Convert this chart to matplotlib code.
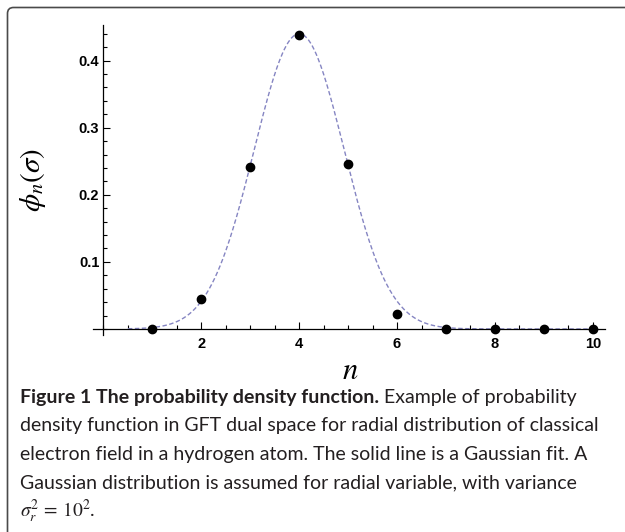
import numpy as np
import matplotlib
matplotlib.use("Agg")
import matplotlib.pyplot as plt
from matplotlib.patches import FancyBboxPatch
from matplotlib.ticker import MultipleLocator

plt.rcParams['mathtext.fontset'] = 'stix'

# data points
n_values = [1, 2, 3, 4, 5, 6, 7, 8, 9, 10]
phi_values = [0.0, 0.044, 0.242, 0.438, 0.246, 0.023, 0.0, 0.0, 0.0, 0.0]

# gaussian fit (dashed curve), parameters
fit_amplitude = 0.44
fit_center = 4.0
fit_width = 0.92
fit_start, fit_end = 0.5, 10.0

x_ticks = [2, 4, 6, 8, 10]
y_ticks = [0.1, 0.2, 0.3, 0.4]

caption_title = "Figure 1 The probability density function."
caption_first = " Example of probability"
caption_lines = [
    "density function in GFT dual space for radial distribution of classical",
    "electron field in a hydrogen atom. The solid line is a Gaussian fit. A",
    "Gaussian distribution is assumed for radial variable, with variance",
    r"$\sigma_r^2\,=\,10^2$.",
]

fig = plt.figure(figsize=(6.25, 5.32), dpi=100)

# rounded panel frame (only top and left edges visible)
frame = FancyBboxPatch((0.075, -0.5), 7.0, 5.32 - 0.075 + 0.5,
                       boxstyle="round,pad=0,rounding_size=0.06",
                       transform=fig.dpi_scale_trans,
                       facecolor='none', edgecolor='#4a4a4a', linewidth=1.2,
                       zorder=-1)
fig.patches.append(frame)

ax = fig.add_axes([0.1483, 0.3703, 0.8197, 0.5827])
ax.patch.set_alpha(0)

x_fit = np.linspace(fit_start, fit_end, 500)
y_fit = fit_amplitude * np.exp(-(x_fit - fit_center) ** 2 / (2 * fit_width ** 2))
ax.plot(x_fit, y_fit, color='#8585c2', lw=1.0, dashes=(3.2, 1.8), zorder=2)
ax.plot(n_values, phi_values, 'o', color='black', markersize=6, zorder=4,
        clip_on=False)

ax.set_xlim(-0.22, 10.25)
ax.set_ylim(-0.009, 0.453)
for side in ['top', 'right']:
    ax.spines[side].set_visible(False)
ax.spines['left'].set_position(('data', 0))
ax.spines['bottom'].set_position(('data', 0))
for side in ['left', 'bottom']:
    ax.spines[side].set_linewidth(0.9)
    ax.spines[side].set_zorder(3)

ax.set_xticks(x_ticks)
ax.set_yticks(y_ticks)
ax.set_xticklabels([str(v) for v in x_ticks])
ax.set_yticklabels([f"{v:.1f}" for v in y_ticks])
ax.xaxis.set_minor_locator(MultipleLocator(0.5))
ax.yaxis.set_minor_locator(MultipleLocator(0.02))
ax.tick_params(which='both', direction='in', width=0.8, colors='black')
ax.tick_params(which='major', length=5)
ax.tick_params(which='minor', length=3)
ax.tick_params(axis='x', which='major', pad=6, labelsize=10.5)
ax.tick_params(axis='y', which='major', pad=3, labelsize=10.5)
for lab in ax.get_xticklabels() + ax.get_yticklabels():
    lab.set_fontweight('bold')
    lab.set_family('Liberation Sans')

ax.set_ylabel(r'$\phi_n(\sigma)$', fontsize=21)
ax.yaxis.set_label_coords(-0.117, 0.5)
ax.yaxis.label.set_va('center')
ax.set_xlabel(r'$n$', fontsize=22)
ax.xaxis.set_label_coords(0.502, -0.113)
ax.xaxis.label.set_va('center')

# caption
cap_x = 20 / 625
base0 = 403
step = 28.5
cap_font = dict(family='Lato', fontsize=14, color='#231f20')
t1 = fig.text(cap_x, 1 - base0 / 532, caption_title, fontweight='bold',
              va='baseline', **cap_font)
ax.annotate(caption_first, xy=(1, 0), xycoords=t1, ha='left', va='bottom',
            annotation_clip=False, **cap_font)
for i, line in enumerate(caption_lines, start=1):
    fig.text(cap_x, 1 - (base0 + i * step) / 532, line, va='baseline',
             **cap_font)

fig.savefig("out.png", dpi=100)
